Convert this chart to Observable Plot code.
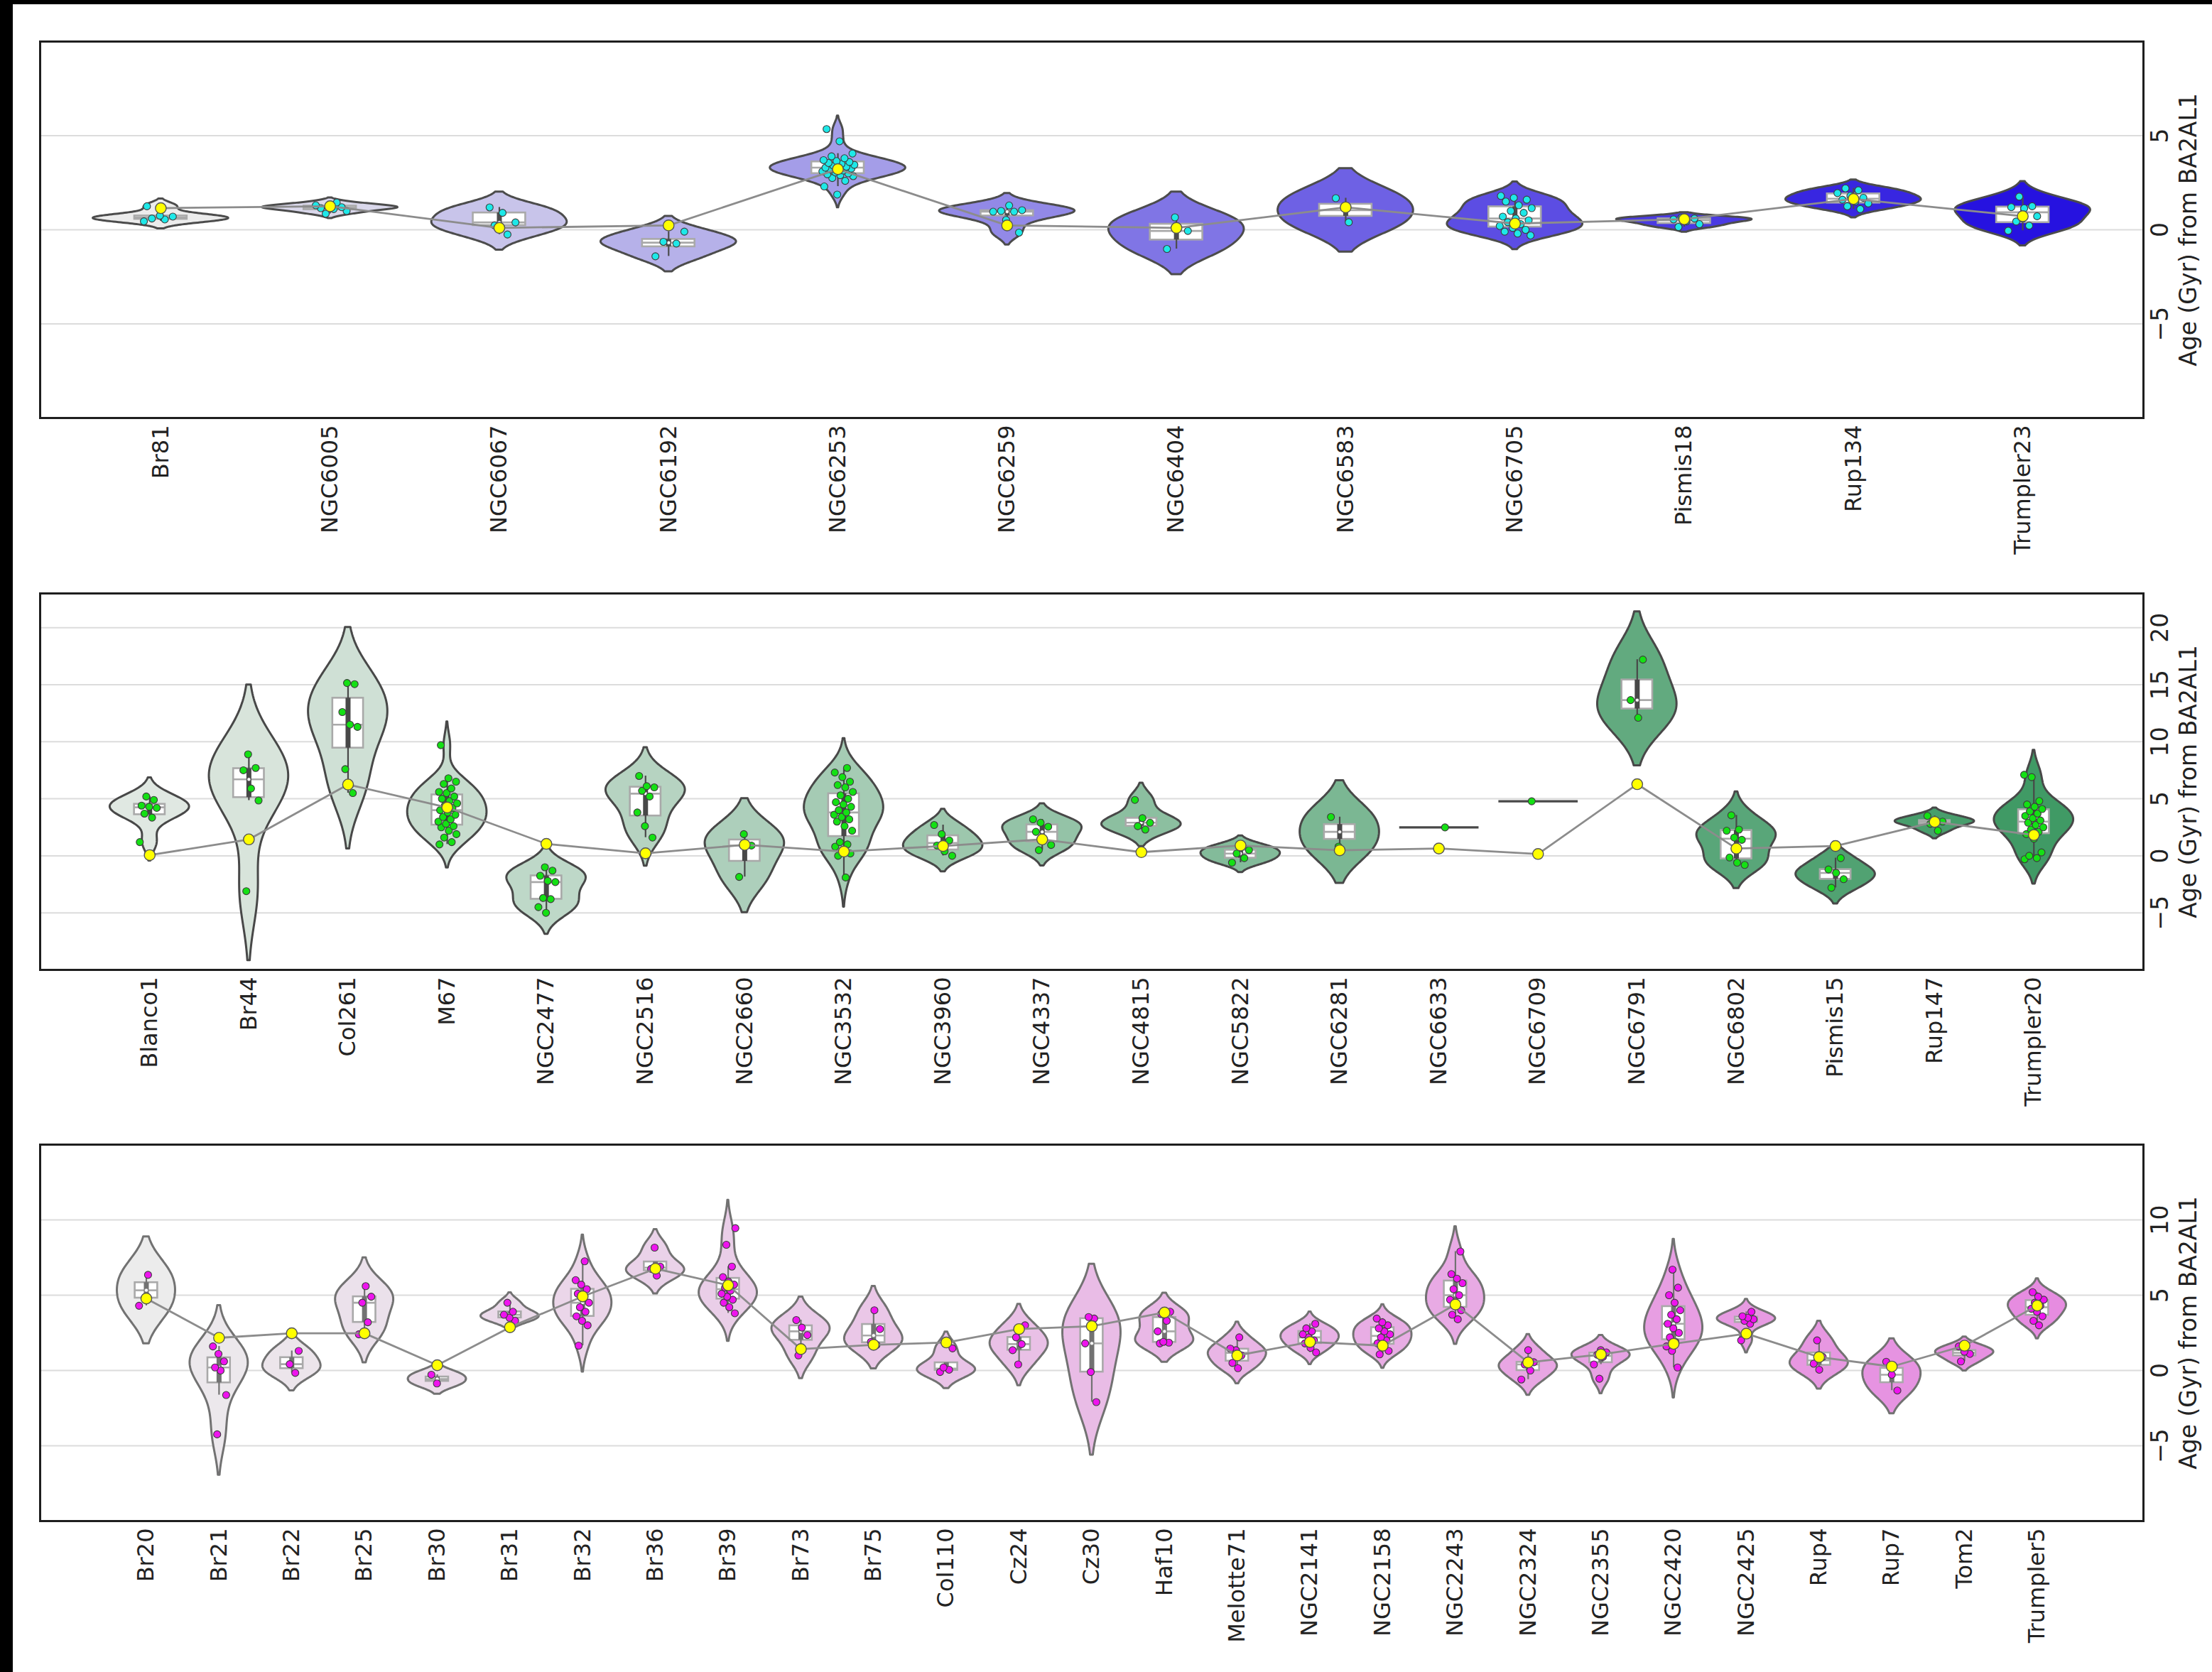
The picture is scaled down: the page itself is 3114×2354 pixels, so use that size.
<!DOCTYPE html>
<html>
<head>
<meta charset="utf-8">
<script src="https://cdn.jsdelivr.net/npm/d3@7"></script>
<script src="https://cdn.jsdelivr.net/npm/@observablehq/plot@0.6"></script>
<style>
  html, body { margin: 0; padding: 0; background: #000; width: 3114px; height: 2354px; overflow: hidden; }
  #page { position: absolute; left: 18px; top: 6px; width: 3096px; height: 2348px; background: #fff; }
  .panel { position: absolute; left: 0; }
  .panel svg { overflow: visible; }
</style>
</head>
<body>
<div id="page"></div>
<script>
// ---------------- DATA ----------------
// Panel 1
const names1 = ["Br81","NGC6005","NGC6067","NGC6192","NGC6253","NGC6259","NGC6404","NGC6583","NGC6705","Pismis18","Rup134","Trumpler23"];
const ages1 = [
  [0.45, 0.55, 0.6, 0.7, 0.75, 1.25],
  [0.85, 1.0, 1.1, 1.15, 1.2, 1.25, 1.3, 1.45],
  [-0.25, 0.23, 0.39, 0.9, 1.19],
  [-1.41, -0.73, -0.64, -0.1],
  [1.87, 2.3, 2.6, 2.75, 2.85, 2.9, 2.95, 3.0, 3.05, 3.1, 3.15, 3.2, 3.25, 3.3, 3.3, 3.35, 3.4, 3.45, 3.5, 3.55, 3.6, 3.65, 3.7, 3.8, 3.9, 4.05, 4.7, 5.35],
  [-0.15, 0.52, 0.96, 0.96, 1.0, 1.04, 1.29],
  [-1.02, -0.06, 0.66],
  [0.4, 1.68],
  [-0.3, -0.2, -0.1, 0.0, 0.1, 0.2, 0.3, 0.4, 0.5, 0.6, 0.7, 0.9, 1.0, 1.15, 1.3, 1.5, 1.6, 1.7, 1.8],
  [0.15, 0.3, 0.45, 0.55, 0.6, 0.65],
  [1.1, 1.25, 1.4, 1.5, 1.6, 1.7, 1.8, 1.95, 2.1, 2.2],
  [-0.05, 0.22, 0.44, 0.72, 1.14, 1.2, 1.25, 1.76]
];
const ref1 = [1.15, 1.25, 0.1, 0.23, 3.22, 0.23, 0.1, 1.19, 0.33, 0.56, 1.64, 0.72];

// Panel 2
const names2 = ["Blanco1","Br44","Col261","M67","NGC2477","NGC2516","NGC2660","NGC3532","NGC3960","NGC4337","NGC4815","NGC5822","NGC6281","NGC6633","NGC6709","NGC6791","NGC6802","Pismis15","Rup147","Trumpler20"];
const ages2 = [
  [1.2, 3.35, 3.7, 4.2, 4.3, 4.4, 4.9, 5.2],
  [-3.1, 4.85, 5.9, 7.5, 7.7, 8.9],
  [5.5, 7.6, 11.3, 11.5, 12.6, 15.05, 15.15],
  [1.0, 1.2, 1.6, 1.9, 2.2, 2.5, 2.6, 2.8, 3.0, 3.2, 3.4, 3.6, 3.8, 4.0, 4.2, 4.4, 4.6, 4.8, 5.0, 5.2, 5.5, 5.6, 5.9, 6.3, 6.5, 6.8, 9.7],
  [-5.0, -4.5, -3.8, -3.7, -2.3, -2.2, -1.75, -1.3, -1.0],
  [1.6, 2.6, 3.8, 5.2, 5.7, 6.0, 6.1, 7.0],
  [-1.85, 0.9, 1.9],
  [-1.9, 0.0, 0.2, 0.5, 0.8, 1.0, 1.2, 2.2, 2.6, 3.0, 3.2, 3.4, 3.6, 3.8, 4.0, 4.3, 4.5, 4.7, 5.0, 5.3, 5.6, 6.0, 6.2, 6.5, 6.9, 7.3, 7.7],
  [0.0, 0.4, 0.9, 1.35, 1.9, 2.7],
  [0.5, 0.95, 1.5, 2.1, 2.55, 2.9, 3.2],
  [2.3, 2.6, 2.9, 3.3, 4.9],
  [-0.6, -0.2, 0.2, 0.5, 0.9],
  [0.8, 3.4],
  [2.49],
  [4.78],
  [12.1, 13.65, 17.2],
  [-0.8, -0.6, -0.15, 1.4, 1.6, 2.2, 2.3, 3.55],
  [-2.8, -2.05, -1.5, -1.2, -0.2],
  [2.2, 2.8, 3.0, 3.1, 3.5],
  [-0.3, -0.2, 0.0, 0.3, 1.5, 1.9, 2.1, 2.3, 2.5, 2.7, 2.9, 3.1, 3.3, 3.5, 3.7, 3.9, 4.1, 4.3, 4.5, 4.8, 6.9, 7.1]
];
const ref2 = [0.06, 1.44, 6.25, 4.24, 1.05, 0.22, 0.96, 0.38, 0.86, 1.44, 0.32, 0.9, 0.48, 0.64, 0.16, 6.28, 0.64, 0.86, 2.97, 1.82];

// Panel 3
const names3 = ["Br20","Br21","Br22","Br25","Br30","Br31","Br32","Br36","Br39","Br73","Br75","Col110","Cz24","Cz30","Haf10","Melotte71","NGC2141","NGC2158","NGC2243","NGC2324","NGC2355","NGC2420","NGC2425","Rup4","Rup7","Tom2","Trumpler5"];
const ages3 = [
  [4.3, 6.35],
  [-4.24, -1.63, 0.0, 0.2, 0.6, 1.1, 1.6],
  [-0.16, 0.42, 1.3],
  [2.4, 3.2, 4.5, 4.9, 5.6],
  [-0.86, -0.28],
  [3.3, 3.5, 3.7, 3.9, 4.5],
  [1.65, 3.0, 3.3, 3.6, 3.9, 4.2, 4.5, 4.8, 5.1, 5.4, 5.7, 6.0, 7.25],
  [6.3, 6.75, 6.9, 8.16],
  [3.8, 4.2, 4.5, 4.7, 4.9, 5.1, 5.3, 5.5, 5.7, 5.9, 6.2, 6.9, 8.35, 9.45],
  [1.0, 2.35, 2.85, 3.35],
  [1.7, 1.9, 2.75, 4.0],
  [-0.1, 0.05, 0.2, 1.47],
  [0.4, 1.35, 1.75, 2.2, 3.0],
  [-2.1, -0.1, 1.8, 3.45, 3.55],
  [1.8, 1.85, 1.9, 2.6, 3.3, 3.75, 3.9],
  [0.15, 0.5, 1.0, 1.35, 1.45, 2.2],
  [1.2, 1.5, 1.8, 2.0, 2.2, 2.4, 2.6, 2.8, 3.1],
  [1.07, 1.3, 1.6, 1.8, 2.0, 2.2, 2.4, 2.6, 2.8, 3.0, 3.2, 3.45],
  [3.4, 3.7, 4.0, 4.4, 4.7, 5.0, 5.4, 5.8, 6.1, 6.4, 7.9],
  [-0.6, 0.0, 0.4, 0.55, 1.35],
  [-0.55, 0.4, 0.9, 1.05, 1.2, 1.35],
  [0.2, 1.3, 1.6, 1.9, 2.2, 2.5, 2.8, 3.1, 3.4, 3.7, 4.0, 4.5, 5.0, 5.5, 6.7],
  [2.0, 3.1, 3.3, 3.4, 3.5, 3.6, 3.9],
  [0.05, 0.45, 0.9, 2.0],
  [-1.33, -0.28, 0.58],
  [0.6, 1.1, 1.25, 1.6],
  [3.0, 3.3, 3.6, 3.9, 4.1, 4.3, 4.5, 4.7, 4.9, 5.2]
];
const ref3 = [4.78, 2.17, 2.47, 2.47, 0.35, 2.87, 4.92, 6.76, 5.66, 1.42, 1.7, 1.86, 2.75, 2.94, 3.85, 1.0, 1.89, 1.65, 4.38, 0.54, 1.07, 1.77, 2.45, 0.89, 0.26, 1.65, 4.31];

// y-axis ticks
const ticks1 = [-5, 0, 5];
const ticks2 = [-5, 0, 5, 10, 15, 20];
const ticks3 = [-5, 0, 5, 10];
const yLabel = "Age (Gyr) from BA2AL1";

// ---------------- helpers ----------------
const FONT = "'DejaVu Sans', sans-serif";

function violinRows(vals, i) {
  const n = vals.length;
  const sd = d3.deviation(vals);
  const bw = sd * Math.pow(n, -0.2);          // Scott factor
  const lo = d3.min(vals) - 2 * bw, hi = d3.max(vals) + 2 * bw; // cut = 2
  const G = 120;
  const ys = d3.range(G).map(k => lo + (hi - lo) * k / (G - 1));
  const dens = ys.map(y => d3.sum(vals, v => Math.exp(-0.5 * ((y - v) / bw) ** 2)));
  const m = d3.max(dens);
  return ys.map((y, k) => ({ y, x1: i - 0.4 * dens[k] / m, x2: i + 0.4 * dens[k] / m }));
}

function boxStats(vals, i) {
  const s = vals.slice().sort(d3.ascending);
  const q1 = d3.quantile(s, 0.25), med = d3.quantile(s, 0.5), q3 = d3.quantile(s, 0.75);
  const iqr = q3 - q1;
  const h1 = d3.min(s.filter(v => v >= q1 - 1.5 * iqr));
  const h2 = d3.max(s.filter(v => v <= q3 + 1.5 * iqr));
  return { i, q1, med, q3, h1, h2 };
}

function panel(cfg) {
  const { names, ages, ref, yDomain, yTicks, pad, c0, c1, ptColor, edge, frameTop } = cfg;
  const n = names.length;
  const col = d3.interpolateRgb(c0, c1);
  const marginTop = 30, plotH = 530, marginBottom = 230;
  const marks = [];
  marks.push(Plot.ruleY(yTicks, { stroke: "#dcdcdc", strokeWidth: 2 }));
  const stats = [], strip = [], singles = [];
  ages.forEach((vals, i) => {
    vals.forEach((v, k) => strip.push({ i, v, j: (((k * 0.6180339 + i * 0.37) % 1) - 0.5) * 0.2 }));
    if (vals.length < 2) { singles.push({ i, v: vals[0] }); return; }
    marks.push(Plot.areaX(violinRows(vals, i), {
      y: "y", x1: "x1", x2: "x2",
      fill: col(i / (n - 1)), stroke: edge, strokeWidth: 3, strokeLinejoin: "round"
    }));
    stats.push(boxStats(vals, i));
  });
  marks.push(Plot.link(singles, {
    x1: d => d.i - 0.4, x2: d => d.i + 0.4, y1: "v", y2: "v", stroke: edge, strokeWidth: 3.2
  }));
  // white boxplot
  marks.push(Plot.rect(stats, {
    x1: d => d.i - 0.155, x2: d => d.i + 0.155, y1: "q1", y2: "q3",
    fill: "white", stroke: "#a9a9a9", strokeWidth: 2.6
  }));
  marks.push(Plot.link(stats, {
    x1: d => d.i - 0.155, x2: d => d.i + 0.155, y1: "med", y2: "med", stroke: "#a9a9a9", strokeWidth: 2.6
  }));
  // inner violin box
  marks.push(Plot.ruleX(stats, { x: "i", y1: "h1", y2: "h2", stroke: edge, strokeWidth: 2.2 }));
  marks.push(Plot.ruleX(stats, { x: "i", y1: "q1", y2: "q3", stroke: edge, strokeWidth: 7 }));
  marks.push(Plot.dot(stats, { x: "i", y: "med", r: 2.5, fill: "white", stroke: edge, strokeWidth: 0.6 }));
  // strip points
  marks.push(Plot.dot(strip, {
    x: d => d.i + d.j, y: "v", r: 5, fill: ptColor, stroke: "#3c3c3c", strokeWidth: 1.1
  }));
  // reference line + yellow points
  const refs = ref.map((v, i) => ({ i, v }));
  marks.push(Plot.line(refs, { x: "i", y: "v", stroke: "#8c8c8c", strokeWidth: 2.8 }));
  marks.push(Plot.dot(refs, { x: "i", y: "v", r: 7.6, fill: "#ffff00", stroke: "#555555", strokeWidth: 1.4 }));
  // frame
  marks.push(Plot.frame({ stroke: "#1e1e1e", strokeWidth: 3 }));
  // x tick labels
  marks.push(Plot.text(names.map((t, i) => ({ t, i })), {
    x: "i", text: "t", frameAnchor: "bottom", dy: 10, rotate: -90,
    textAnchor: "end", lineAnchor: "middle", fontSize: 32, fill: "#222222"
  }));
  // y tick labels (right)
  marks.push(Plot.text(yTicks, {
    y: d => d, text: d => d3.format("d")(d), frameAnchor: "right", dx: 24, rotate: -90,
    textAnchor: "middle", lineAnchor: "middle", fontSize: 33, fill: "#222222"
  }));
  // y axis label
  marks.push(Plot.text([yLabel], {
    text: d => d, frameAnchor: "right", dx: 64, rotate: -90,
    textAnchor: "middle", lineAnchor: "middle", fontSize: 33, fill: "#222222"
  }));

  const chart = Plot.plot({
    width: 3114, height: marginTop + plotH + marginBottom,
    marginLeft: 56, marginRight: 97, marginTop, marginBottom,
    x: { domain: [-pad, n - 1 + pad], axis: null },
    y: { domain: yDomain, axis: null },
    style: { background: "transparent", fontFamily: FONT, overflow: "visible" },
    marks
  });
  const wrap = document.createElement("div");
  wrap.className = "panel";
  wrap.style.top = (frameTop - marginTop) + "px";
  wrap.appendChild(chart);
  document.body.appendChild(wrap);
}

panel({ names: names1, ages: ages1, ref: ref1, yDomain: [-10, 10], yTicks: ticks1, pad: 0.713,
  c0: "#ececec", c1: "#2612e0", ptColor: "#1ee8e8", edge: "#4c4c4c", frameTop: 57.5 });
panel({ names: names2, ages: ages2, ref: ref2, yDomain: [-10, 23], yTicks: ticks2, pad: 1.105,
  c0: "#e0e8e2", c1: "#409a65", ptColor: "#14e014", edge: "#484848", frameTop: 834.5 });
panel({ names: names3, ages: ages3, ref: ref3, yDomain: [-10, 15], yTicks: ticks3, pad: 1.46,
  c0: "#ececec", c1: "#e68ce0", ptColor: "#ee14ee", edge: "#727272", frameTop: 1611 });
</script>
</body>
</html>
